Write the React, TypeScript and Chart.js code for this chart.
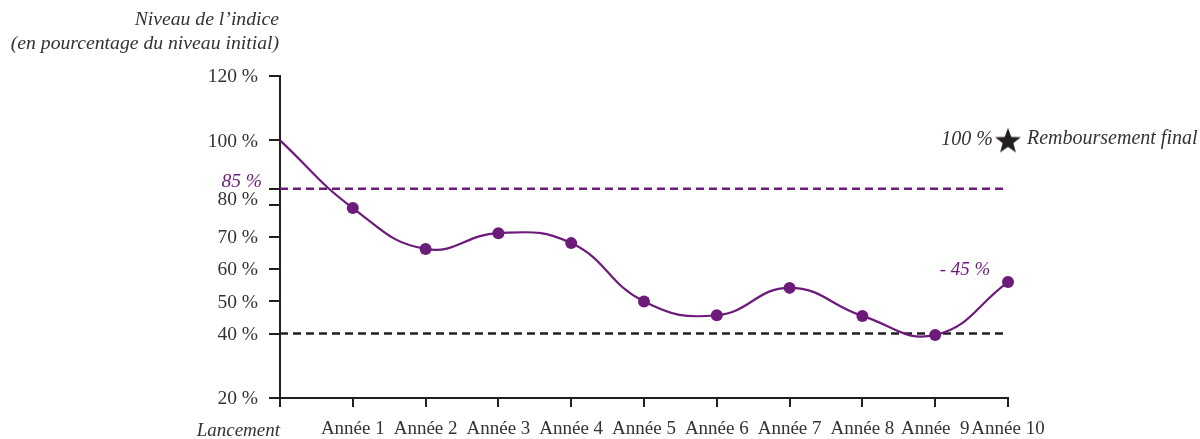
import { useEffect, useRef } from "react";
import { Chart, registerables } from "chart.js";

Chart.register(...registerables);

// ---- Data ----
const categories = [
  "Lancement",
  "Année 1",
  "Année 2",
  "Année 3",
  "Année 4",
  "Année 5",
  "Année 6",
  "Année 7",
  "Année 8",
  "Année  9",
  "Année 10",
];
const indexLevels = [100, 79, 66.3, 71.2, 68.1, 50, 45.7, 54.2, 45.5, 39.6, 56];
const couponBarrier = 85;
const capitalBarrier = 40;
const finalRepayment = 100;
const yTickValues = [20, 40, 50, 60, 70, 80, 85, 100, 120];
const yTickLabels = ["20 %", "40 %", "50 %", "60 %", "70 %", "80 %", "85 %", "100 %", "120 %"];
const yTitle = ["Niveau de l\u2019indice", "(en pourcentage du niveau initial)"];
const finalValueLabel = "100 %";
const finalText = "Remboursement final";
const lastChangeLabel = "- 45 %";

// ---- Styles ----
const PURPLE = "#6c1b7a";
const INK = "#231f20";
const TEXT = "#333333";
const SERIF = "'Liberation Serif', 'Times New Roman', serif";

function makeStar(): HTMLCanvasElement {
  const c = document.createElement("canvas");
  c.width = 30;
  c.height = 30;
  const g = c.getContext("2d")!;
  const cx = 15, cy = 16, ro = 13.5, ri = 5.6;
  g.beginPath();
  for (let i = 0; i < 10; i++) {
    const r = i % 2 === 0 ? ro : ri;
    const a = -Math.PI / 2 + (i * Math.PI) / 5;
    const x = cx + r * Math.cos(a);
    const y = cy + r * Math.sin(a);
    if (i === 0) g.moveTo(x, y);
    else g.lineTo(x, y);
  }
  g.closePath();
  g.fillStyle = INK;
  g.fill();
  return c;
}

const labelPlugin = {
  id: "labelPlugin",
  afterDraw(chart: any) {
    const ctx = chart.ctx as CanvasRenderingContext2D;
    const y = chart.scales.y;
    const x = chart.scales.x;
    const area = chart.chartArea;
    ctx.save();

    // y tick labels
    ctx.textBaseline = "middle";
    ctx.textAlign = "right";
    yTickValues.forEach((v, i) => {
      const py = y.getPixelForValue(v);
      const special = v === couponBarrier;
      ctx.font = (special ? "italic " : "") + "19.5px " + SERIF;
      ctx.fillStyle = special ? PURPLE : TEXT;
      let dy = 1;
      if (v === couponBarrier) dy = -7;
      if (v === 80) dy = -5;
      ctx.fillText(yTickLabels[i], area.left - (special ? 18 : 22), py + dy);
    });

    // y title
    ctx.font = "italic 19.7px " + SERIF;
    ctx.fillStyle = TEXT;
    ctx.textAlign = "right";
    ctx.fillText(yTitle[0], area.left - 1, 20);
    ctx.fillText(yTitle[1], area.left - 1, 44);

    // Lancement label
    ctx.font = "italic 19px " + SERIF;
    ctx.textAlign = "right";
    ctx.fillText(categories[0], x.getPixelForValue(0), 431);

    // final repayment annotation
    const last = categories.length - 1;
    const sx = x.getPixelForValue(last);
    const sy = y.getPixelForValue(finalRepayment);
    ctx.font = "italic 20px " + SERIF;
    ctx.textAlign = "right";
    ctx.fillText(finalValueLabel, sx - 15, sy - 1);
    ctx.textAlign = "left";
    ctx.fillText(finalText, sx + 19, sy - 2);

    // last change label
    const ly = y.getPixelForValue(indexLevels[last]);
    ctx.fillStyle = PURPLE;
    ctx.font = "italic 19px " + SERIF;
    ctx.textAlign = "center";
    ctx.fillText(lastChangeLabel, sx - 43, ly - 12);

    ctx.restore();
  },
};

export default function App() {
  const ref = useRef<HTMLCanvasElement | null>(null);

  useEffect(() => {
    if (!ref.current) return;
    const star = makeStar();
    const last = categories.length - 1;
    const chart = new Chart(ref.current, {
      type: "line",
      data: {
        labels: categories,
        datasets: [
          {
            label: "Indice",
            data: indexLevels,
            borderColor: PURPLE,
            borderWidth: 2.2,
            tension: 0.45,
            pointRadius: (ctx: any) => (ctx.dataIndex === 0 ? 0 : 6),
            pointHoverRadius: 6,
            pointBackgroundColor: PURPLE,
            pointBorderWidth: 0,
            fill: false,
          },
          {
            label: "Barrière 85",
            data: categories.map(() => couponBarrier),
            borderColor: PURPLE,
            borderWidth: 2.5,
            borderDash: [8, 5],
            pointRadius: 0,
            tension: 0,
            fill: false,
          },
          {
            label: "Barrière 40",
            data: categories.map(() => capitalBarrier),
            borderColor: INK,
            borderWidth: 2.5,
            borderDash: [8, 5],
            pointRadius: 0,
            tension: 0,
            fill: false,
          },
          {
            label: "Remboursement final",
            data: categories.map((_, i) => (i === last ? finalRepayment : null)),
            showLine: false,
            pointStyle: star as any,
            pointRadius: 13,
            fill: false,
          },
        ],
      },
      options: {
        animation: false,
        responsive: false,
        devicePixelRatio: 1,
        layout: { padding: { left: 0, right: 192, top: 76, bottom: 0 } },
        plugins: {
          legend: { display: false },
          tooltip: { enabled: false },
          title: { display: false },
        },
        scales: {
          x: {
            type: "category",
            offset: false,
            grid: {
              display: true,
              drawOnChartArea: false,
              drawTicks: true,
              tickLength: 9,
              color: INK,
              lineWidth: 2,
            },
            border: { display: true, color: INK, width: 2 },
            ticks: {
              autoSkip: false,
              maxRotation: 0,
              minRotation: 0,
              padding: 11,
              color: TEXT,
              font: { family: SERIF, size: 19 },
              callback: (_v: any, i: number) => (i === 0 ? "" : categories[i]),
            },
            afterFit: (s: any) => {
              s.height = 41;
            },
          },
          y: {
            type: "linear",
            min: 20,
            max: 120,
            afterBuildTicks: (s: any) => {
              s.ticks = yTickValues.map((v) => ({ value: v }));
            },
            grid: {
              display: true,
              drawOnChartArea: false,
              drawTicks: true,
              tickLength: 11,
              color: INK,
              lineWidth: 2,
            },
            border: { display: true, color: INK, width: 2 },
            ticks: {
              color: "rgba(0,0,0,0)",
              font: { family: SERIF, size: 18 },
              callback: () => "",
            },
            afterFit: (s: any) => {
              s.width = 280;
            },
          },
        },
      },
      plugins: [labelPlugin],
    });
    return () => chart.destroy();
  }, []);

  return (
    <div style={{ position: "fixed", left: 0, top: 0, width: 1200, height: 439, background: "#fff" }}>
      <canvas ref={ref} width={1200} height={439} style={{ display: "block", width: 1200, height: 439 }} />
    </div>
  );
}
